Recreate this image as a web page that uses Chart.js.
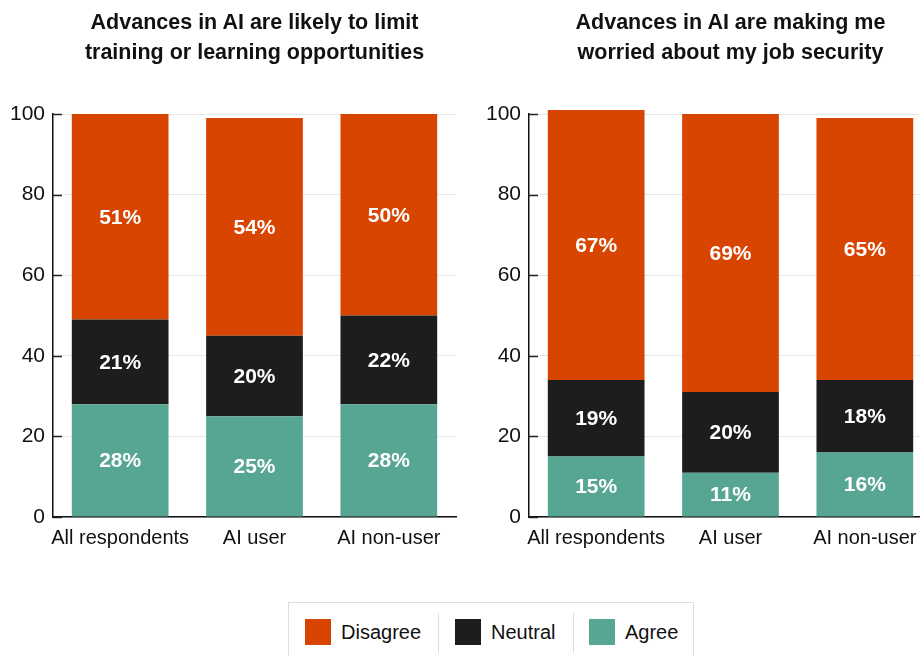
<!DOCTYPE html>
<html>
<head>
<meta charset="utf-8">
<script src="https://cdn.jsdelivr.net/npm/chart.js@4.4.1/dist/chart.umd.min.js"></script>
<style>
  html, body { margin: 0; padding: 0; background: #fff; overflow: hidden; width: 920px; height: 656px; }
  body { position: relative; font-family: "Liberation Sans", Arial, sans-serif; color: #111; }
  .wrap { position: absolute; top: 0; }
  .title { position: absolute; top: 7px; font-weight: bold; font-size: 21.5px; line-height: 30px; text-align: center; color: #111; white-space: nowrap; }
  canvas { position: absolute; top: 0; left: 0; }
  #legend { position: absolute; left: 288px; top: 602px; width: 406px; height: 80px; border: 1px solid #dedede; box-sizing: border-box; }
  .li { position: absolute; top: 16px; height: 26px; display: flex; align-items: center; font-size: 20px; color: #111; }
  .sw { width: 26px; height: 26px; margin-right: 10px; }
  .sep { position: absolute; top: 10px; width: 1px; height: 40px; background: #dedede; }
</style>
</head>
<body>
<div class="wrap" style="left:0;width:460px;height:560px;">
  <canvas id="c1" width="460" height="556"></canvas>
  <div class="title" style="left:53px;width:403px;">Advances in AI are likely to limit<br>training or learning opportunities</div>
</div>
<div class="wrap" style="left:476px;width:460px;height:560px;">
  <canvas id="c2" width="460" height="556"></canvas>
  <div class="title" style="left:53px;width:403px;">Advances in AI are making me<br>worried about my job security</div>
</div>
<div id="legend">
  <div class="li" style="left:16px;"><div class="sw" style="background:#D84500"></div>Disagree</div>
  <div class="sep" style="left:149px;"></div>
  <div class="li" style="left:166px;"><div class="sw" style="background:#1D1D1D"></div>Neutral</div>
  <div class="sep" style="left:284px;"></div>
  <div class="li" style="left:300px;"><div class="sw" style="background:#57A593"></div>Agree</div>
</div>
<script>
// ---- Data ----
const categories = ["All respondents", "AI user", "AI non-user"];
const seriesNames = ["Agree", "Neutral", "Disagree"];
const yTicks = [0, 20, 40, 60, 80, 100];

// Chart 1: Advances in AI are likely to limit training or learning opportunities
const limitAgree    = [28, 25, 28];
const limitNeutral  = [21, 20, 22];
const limitDisagree = [51, 54, 50];

// Chart 2: Advances in AI are making me worried about my job security
const worryAgree    = [15, 11, 16];
const worryNeutral  = [19, 20, 18];
const worryDisagree = [67, 69, 65];

const colors = { Agree: "#57A593", Neutral: "#1D1D1D", Disagree: "#D84500" };

// ---- Plugins ----
const barLabels = {
  id: "barLabels",
  afterDatasetsDraw(chart) {
    const ctx = chart.ctx;
    ctx.save();
    ctx.fillStyle = "#ffffff";
    ctx.font = "bold 21px 'Liberation Sans', Arial, sans-serif";
    ctx.textAlign = "center";
    ctx.textBaseline = "middle";
    chart.data.datasets.forEach((ds, i) => {
      const meta = chart.getDatasetMeta(i);
      meta.data.forEach((bar, j) => {
        const v = ds.data[j];
        ctx.fillText(v + "%", bar.x, (bar.y + bar.base) / 2 + 1);
      });
    });
    ctx.restore();
  }
};

const innerTicks = {
  id: "innerTicks",
  afterDraw(chart) {
    const ctx = chart.ctx;
    const y = chart.scales.y;
    const left = chart.chartArea.left;
    ctx.save();
    ctx.strokeStyle = "#222";
    ctx.lineWidth = 1.5;
    y.ticks.forEach((t) => {
      const py = Math.round(y.getPixelForValue(t.value)) + 0.5;
      ctx.beginPath();
      ctx.moveTo(left, py);
      ctx.lineTo(left + 9, py);
      ctx.stroke();
    });
    ctx.restore();
  }
};

function makeChart(id, agree, neutral, disagree) {
  const dataArrays = { Agree: agree, Neutral: neutral, Disagree: disagree };
  return new Chart(document.getElementById(id), {
    type: "bar",
    data: {
      labels: categories,
      datasets: seriesNames.map((name) => ({
        label: name,
        data: dataArrays[name],
        backgroundColor: colors[name],
        borderWidth: 0,
        categoryPercentage: 1.0,
        barPercentage: 0.72,
        clip: false
      }))
    },
    options: {
      responsive: false,
      animation: false,
      devicePixelRatio: 1,
      layout: { padding: { top: 114, right: 4, bottom: 6, left: 0 } },
      plugins: { legend: { display: false }, title: { display: false }, tooltip: { enabled: false } },
      scales: {
        x: {
          stacked: true,
          grid: { display: false, drawTicks: false },
          border: { display: true, color: "#111", width: 1.5 },
          ticks: { color: "#111", font: { size: 20, family: "'Liberation Sans', Arial, sans-serif" }, padding: 9, maxRotation: 0, minRotation: 0, autoSkip: false },
          afterFit(scale) { scale.height = 33; }
        },
        y: {
          stacked: true,
          min: 0,
          max: 100,
          afterBuildTicks(scale) { scale.ticks = yTicks.map((v) => ({ value: v })); },
          grid: { color: "#e6e6e6", lineWidth: 1, drawTicks: false },
          border: { display: true, color: "#111", width: 1.5 },
          ticks: { color: "#111", font: { size: 21, family: "'Liberation Sans', Arial, sans-serif" }, padding: 8 },
          afterFit(scale) { scale.width = 53; }
        }
      }
    },
    plugins: [barLabels, innerTicks]
  });
}

makeChart("c1", limitAgree, limitNeutral, limitDisagree);
makeChart("c2", worryAgree, worryNeutral, worryDisagree);
</script>
</body>
</html>
